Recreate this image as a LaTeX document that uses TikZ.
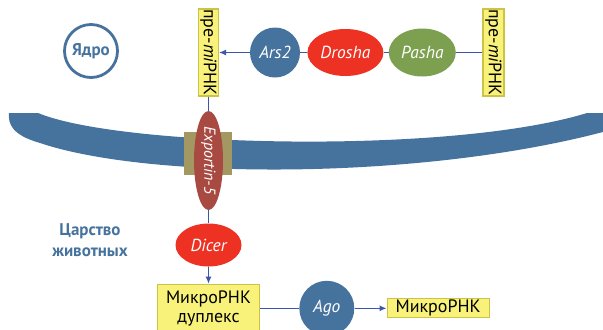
\documentclass[tikz,border=0pt]{standalone}
\usepackage{fontspec}
\setmainfont{PT Sans}
\usepackage{xcolor}
\usetikzlibrary{positioning, arrows.meta, shapes.geometric}

\definecolor{cellblue}{RGB}{70,115,158}
\definecolor{linkblue}{RGB}{59,87,168}
\definecolor{enzred}{RGB}{237,50,36}
\definecolor{pashagreen}{RGB}{125,160,80}
\definecolor{exportred}{RGB}{168,74,66}
\definecolor{poreolive}{RGB}{163,152,98}
\definecolor{rnafill}{RGB}{248,242,122}
\definecolor{rnaedge}{RGB}{205,196,70}

\begin{document}
\begin{tikzpicture}[x=1bp, y=-1bp,
    prot/.style={ellipse, fill=#1, inner sep=0pt, text=white,
                 font=\fontsize{17.5}{20}\selectfont\itshape},
    rnabox/.style={rectangle, draw=rnaedge, fill=rnafill, line width=1.2bp, inner sep=0pt,
                   align=center, font=\fontsize{18}{19}\selectfont},
    link/.style={draw=linkblue, line width=1.2bp},
    arrow/.style={link, -{Latex[length=7bp, width=6bp]}},
    note/.style={align=center, text=cellblue, font=\fontsize{17}{21}\selectfont\bfseries}
  ]
  \useasboundingbox (0,0) rectangle (603,329);

  % membrane and pore
  \fill[cellblue] (38,113) .. controls (120,147) and (450,155) .. (587,113) -- (603,113) -- (603,132)
     .. controls (420,180) and (150,180) .. (40,143) .. controls (12,135) and (8,124) .. (9,113) -- cycle;
  \node[rectangle, fill=poreolive, minimum width=48bp, minimum height=43bp, inner sep=0pt] (pore) at (208,153.5) {};

  \node[circle, draw=cellblue, line width=2.8bp, minimum size=53bp, inner sep=0pt, note] (nucleus) at (91,51) {Ядро};
  \node[note] (kingdom) at (90,240) {Царство\\животных};

  % nucleus: processing
  \node[prot=cellblue, circle, minimum size=50bp] (ars) at (275,52.5) {Ars2};
  \node[prot=enzred, minimum width=76bp, minimum height=47bp, right=7bp of ars] (drosha) {Drosha};
  \node[prot=pashagreen, minimum width=67bp, minimum height=48bp, right=5bp of drosha] (pasha) {Pasha};
  \node[rnabox, rotate=-90, minimum width=87bp, minimum height=21bp] (prernaR) at (493.5,52.5) {пре-\textit{mi}РНК};
  \node[rnabox, rotate=-90, minimum width=87bp, minimum height=20bp] (prernaL) at (208.5,52.5) {пре-\textit{mi}РНК};

  % export and cytoplasm
  \node[prot=exportred, rotate=-90, minimum width=99bp, minimum height=29bp,
        font=\fontsize{16}{18}\selectfont\itshape] (exportin) at (208.5,160.5) {Exportin-5};
  \node[prot=enzred, minimum width=66bp, minimum height=43bp] (dicer) at (208.5,245) {Dicer};
  \node[rnabox, minimum width=102bp, minimum height=48bp, below=17bp of dicer] (duplex) {МикроРНК\\дуплекс};
  \node[prot=cellblue, circle, minimum size=55bp, right=39bp of duplex] (ago) {Ago};
  \node[rnabox, minimum width=102bp, minimum height=19bp, right=32bp of ago] (mirna) {МикроРНК};

  \draw[link] (prernaR) -- (pasha);
  \draw[link] (pasha) -- (drosha);
  \draw[link] (drosha) -- (ars);
  \draw[arrow] (ars) -- (prernaL);
  \draw[link] (prernaL) -- (exportin);
  \draw[link] (exportin) -- (dicer);
  \draw[arrow] (dicer) -- (duplex);
  \draw[link] (duplex) -- (ago);
  \draw[arrow] (ago) -- (mirna);
\end{tikzpicture}
\end{document}
